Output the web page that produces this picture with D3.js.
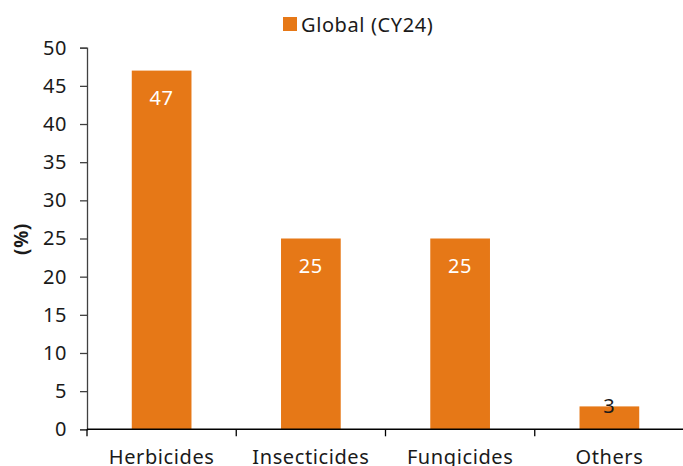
<!DOCTYPE html>
<html>
<head>
<meta charset="utf-8">
<script src="https://cdn.jsdelivr.net/npm/d3@7"></script>
<style>
  html, body { margin: 0; padding: 0; background: #fff; }
  svg { display: block; font-family: "Noto Sans", sans-serif; }
  text { letter-spacing: 0.6px; }
</style>
</head>
<body>
<svg id="chart" width="683" height="466"></svg>
<script>
const categories = ["Herbicides", "Insecticides", "Fungicides", "Others"];
const values = [47, 25, 25, 3];
const seriesName = "Global (CY24)";
const yTicks = [0, 5, 10, 15, 20, 25, 30, 35, 40, 45, 50];

const svg = d3.select("#chart");
const barColor = "#E67817";
const plot = { left: 87, right: 684, top: 47.7, bottom: 429.3 };
const fs = 20;

const x = d3.scaleBand().domain(categories).range([plot.left, plot.right])
  .paddingInner(0.6).paddingOuter(0.3);
const y = d3.scaleLinear().domain([0, 50]).range([plot.bottom, plot.top]);

// y axis
const yAxis = svg.append("g").attr("transform", `translate(${plot.left},0)`)
  .call(d3.axisLeft(y).tickValues(yTicks).tickSize(7).tickPadding(13));
yAxis.select(".domain").attr("stroke", "#404040").attr("stroke-width", 1.3);
yAxis.selectAll(".tick line").attr("stroke", "#404040").attr("stroke-width", 1.3);
yAxis.selectAll(".tick text").attr("font-size", fs).attr("fill", "#1a1a1a")
  .attr("font-family", "Noto Sans, sans-serif");

// bars
svg.append("g").selectAll("rect").data(values).join("rect")
  .attr("x", (d, i) => x(categories[i]))
  .attr("width", x.bandwidth())
  .attr("y", d => y(d))
  .attr("height", d => y(0) - y(d))
  .attr("fill", barColor);

// x axis (category boundaries as ticks)
const xg = svg.append("g").attr("transform", `translate(0,${plot.bottom})`);
xg.append("line").attr("x1", plot.left).attr("x2", plot.right).attr("stroke", "#000").attr("stroke-width", 1.5);
const bounds = categories.map(c => x(c) - x.step() * x.paddingOuter()).concat([plot.right]);
xg.selectAll("line.b").data(bounds).join("line").attr("class", "b")
  .attr("x1", d => d).attr("x2", d => d).attr("y1", 0).attr("y2", 7)
  .attr("stroke", "#000").attr("stroke-width", 1.3);
xg.selectAll("text").data(categories).join("text")
  .attr("x", d => x(d) + x.bandwidth() / 2)
  .attr("y", 35)
  .attr("text-anchor", "middle")
  .attr("font-size", fs).attr("fill", "#1a1a1a")
  .text(d => d);

// value labels
svg.append("g").selectAll("text").data(values).join("text")
  .attr("x", (d, i) => x(categories[i]) + x.bandwidth() / 2)
  .attr("y", d => d > 10 ? y(d) + 34 : y(d) + 7)
  .attr("text-anchor", "middle")
  .attr("font-size", fs)
  .attr("fill", d => d > 10 ? "#fff" : "#1a1a1a")
  .text(d => d);

// y axis title
svg.append("text")
  .attr("transform", "translate(28,239) rotate(-90)")
  .attr("text-anchor", "middle")
  .attr("font-size", 19).attr("font-weight", "bold").attr("fill", "#1a1a1a")
  .text("(%)");

// legend
const lg = svg.append("g").attr("transform", "translate(283,17)");
lg.append("rect").attr("width", 14).attr("height", 14).attr("fill", barColor);
lg.append("text").attr("x", 18).attr("y", 14.5).attr("font-size", fs).attr("fill", "#1a1a1a")
  .text(seriesName);
</script>
</body>
</html>
